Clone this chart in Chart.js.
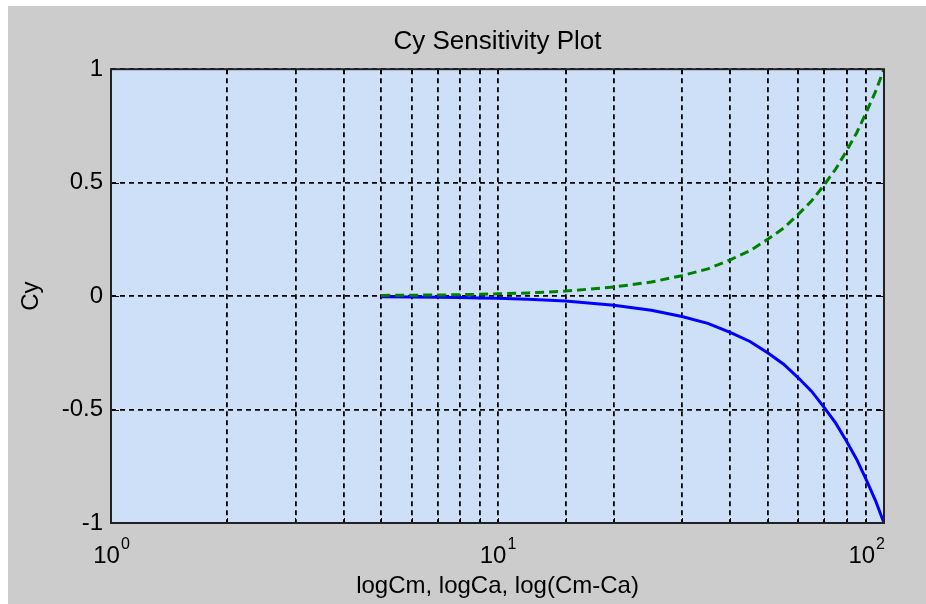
<!DOCTYPE html>
<html>
<head>
<meta charset="utf-8">
<script src="https://cdn.jsdelivr.net/npm/chart.js@4.4.1/dist/chart.umd.min.js"></script>
<style>
  html, body { margin: 0; padding: 0; background: #ffffff; }
  #fig { position: absolute; left: 8px; top: 6px; width: 918px; height: 598px; background: #cccccc; }
</style>
</head>
<body>
<div id="fig"><canvas id="cyChart" width="918" height="598"></canvas></div>
<script>
// values
const xValues = [5, 6, 7, 8, 9, 10, 12, 15, 20, 25, 30, 35, 40, 45, 50, 55, 60, 65, 70, 75, 80, 85, 90, 95, 100];
const cyUp = [0.003, 0.004, 0.005, 0.006, 0.008, 0.01, 0.014, 0.022, 0.04, 0.062, 0.09, 0.12, 0.16, 0.2, 0.25, 0.3, 0.36, 0.42, 0.49, 0.56, 0.64, 0.72, 0.81, 0.9, 1.0];
const cyDown = [-0.003, -0.004, -0.005, -0.006, -0.008, -0.01, -0.014, -0.022, -0.04, -0.062, -0.09, -0.12, -0.16, -0.2, -0.25, -0.3, -0.36, -0.42, -0.49, -0.56, -0.64, -0.72, -0.81, -0.9, -1.0];
const yTicks = [-1, -0.5, 0, 0.5, 1];
const xMajors = [1, 10, 100];
const xExponents = ['0', '1', '2'];

const FONT = '"Liberation Sans", Arial, Helvetica, sans-serif';

const plotFrame = {
    id: 'plotFrame',
    beforeDraw(chart) {
        const { ctx, chartArea: a } = chart;
        ctx.save();
        ctx.fillStyle = '#cde0f7';
        ctx.fillRect(a.left, a.top, a.right - a.left, a.bottom - a.top);
        ctx.restore();
    },
    afterDraw(chart) {
        const { ctx, chartArea: a, scales } = chart;
        ctx.save();
        ctx.strokeStyle = '#000';
        ctx.lineWidth = 1;
        ctx.beginPath();
        scales.x.ticks.forEach(t => {
            const px = Math.round(scales.x.getPixelForValue(t.value)) + 0.5;
            ctx.moveTo(px, a.bottom); ctx.lineTo(px, a.bottom - 5);
            ctx.moveTo(px, a.top); ctx.lineTo(px, a.top + 5);
        });
        scales.y.ticks.forEach(t => {
            const py = Math.round(scales.y.getPixelForValue(t.value)) + 0.5;
            ctx.moveTo(a.left, py); ctx.lineTo(a.left + 8, py);
            ctx.moveTo(a.right, py); ctx.lineTo(a.right - 8, py);
        });
        ctx.stroke();
        ctx.strokeStyle = '#222';
        ctx.lineWidth = 2;
        ctx.strokeRect(a.left, a.top, a.right - a.left, a.bottom - a.top);

        // 10^n labels with a real superscript
        ctx.fillStyle = '#000';
        ctx.textBaseline = 'alphabetic';
        xMajors.forEach((v, i) => {
            const px = scales.x.getPixelForValue(v);
            ctx.font = '24px ' + FONT;
            const wBase = ctx.measureText('10').width;
            ctx.font = '16px ' + FONT;
            const wExp = ctx.measureText(xExponents[i]).width;
            const total = wBase + wExp;
            let x0 = px - total / 2;
            if (i === xMajors.length - 1) x0 = px - total;
            ctx.font = '24px ' + FONT;
            ctx.fillText('10', x0, a.bottom + 40);
            ctx.font = '16px ' + FONT;
            ctx.fillText(xExponents[i], x0 + wBase + 1, a.bottom + 26);
        });
        ctx.restore();
    }
};

new Chart(document.getElementById('cyChart'), {
    type: 'line',
    data: {
        datasets: [{
            data: xValues.map((x, i) => ({ x: x, y: cyUp[i] })),
            borderColor: '#008000',
            borderWidth: 3,
            borderDash: [9, 5],
            pointRadius: 0,
            order: 0
        }, {
            data: xValues.map((x, i) => ({ x: x, y: cyDown[i] })),
            borderColor: '#0000ff',
            borderWidth: 3,
            pointRadius: 0,
            order: 1
        }]
    },
    options: {
        responsive: false,
        animation: false,
        layout: { padding: { left: 0, right: 42, top: 0, bottom: 0 } },
        plugins: {
            legend: { display: false },
            tooltip: { enabled: false },
            title: {
                display: true,
                fullSize: false,
                text: 'Cy Sensitivity Plot',
                color: '#000',
                font: { family: FONT, size: 26, weight: 'normal' },
                padding: { top: 20, bottom: 12 }
            }
        },
        scales: {
            x: {
                type: 'logarithmic',
                min: 1,
                max: 100,
                afterFit(s) { s.height = 81; },
                grid: { color: '#000', lineWidth: 1.8, drawTicks: false },
                border: { display: false, dash: [5, 4] },
                ticks: {
                    autoSkip: false,
                    maxRotation: 0,
                    padding: 17,
                    font: { family: FONT, size: 24 },
                    callback: () => ''
                },
                title: {
                    display: true,
                    text: 'logCm, logCa, log(Cm-Ca)',
                    color: '#000',
                    font: { family: FONT, size: 24 },
                    padding: { bottom: 3 }
                }
            },
            y: {
                min: -1,
                max: 1,
                afterFit(s) { s.width = 103; },
                afterBuildTicks(s) { s.ticks = yTicks.map(v => ({ value: v })); },
                grid: { color: '#000', lineWidth: 1.8, drawTicks: false },
                border: { display: false, dash: [5, 4] },
                ticks: {
                    padding: 8,
                    color: '#000',
                    font: { family: FONT, size: 24 },
                    callback: v => String(v)
                },
                title: {
                    display: true,
                    text: 'Cy',
                    color: '#000',
                    font: { family: FONT, size: 24 },
                    padding: { top: 9 }
                }
            }
        }
    },
    plugins: [plotFrame]
});
</script>
</body>
</html>
